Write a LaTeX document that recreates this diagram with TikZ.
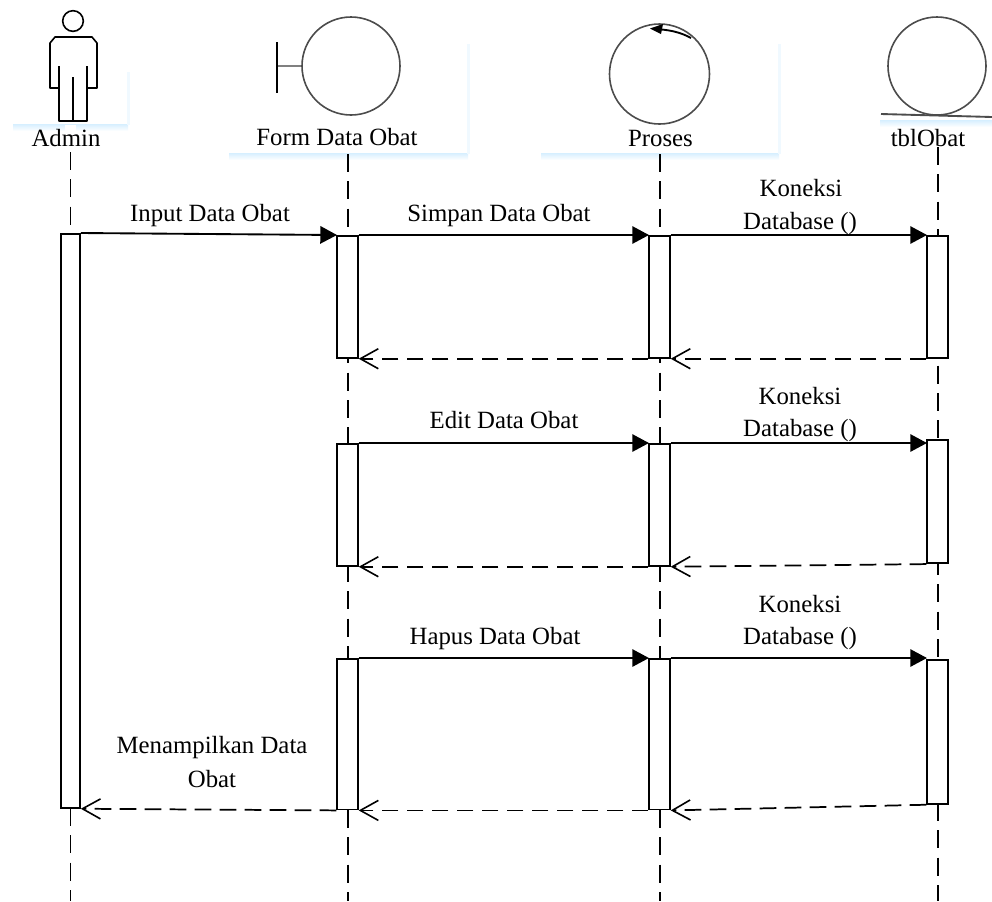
\documentclass[tikz,border=0pt]{standalone}
\usepackage{fontspec}
\setmainfont{Liberation Serif}
\usetikzlibrary{arrows.meta}
\tikzset{
  x=0.75pt,y=-0.75pt,
  lbl/.style={inner sep=0pt,font=\fontsize{18.6pt}{21pt}\selectfont,text=black},
  actbox/.style={draw=black,line width=1.3pt,fill=white,minimum width=15.5pt,inner sep=0pt,anchor=north},
  life/.style={draw=black,line width=1.3pt,dash pattern=on 13.5pt off 7pt},
  callarrow/.style={draw=black,line width=1.4pt,-{Triangle[length=12.5pt,width=13pt]},shorten >=-0.5pt},
  retarrow/.style={draw=black,line width=1.3pt,dash pattern=on 12.5pt off 6.25pt,-{Straight Barb[length=13.5pt,width=15pt,line width=1.2pt]}},
  fig/.style={draw=black,line width=1.2pt,line join=round},
  icon/.style={draw=black!70,line width=1.2pt},
  shadowfill/.style={top color=blue!40!cyan!16!white,bottom color=white,draw=none}
}
\newcommand{\panel}[4]{% x1 y1 x2 y2
  \shade[shadowfill] (#1-1,#4-1) rectangle (#3+1,#4+6);
  \fill[blue!40!cyan!6!white] (#3,#2+2) rectangle (#3+2.5,#4);
}
\begin{document}
\begin{tikzpicture}
\useasboundingbox (0,0) rectangle (992,901);
\fill[white] (0,0) rectangle (992,901);
% panels
\panel{14}{70}{127}{125}
\panel{230}{42}{467}{154}
\panel{542}{42}{778}{154}
\panel{881}{65}{992}{121}
\fill[white] (65,125) rectangle (76,151);
% lifeline ends
\coordinate (adminTop) at (70.5,152);
\coordinate (adminEnd) at (70.5,901);
\coordinate (formTop) at (348,154);
\coordinate (formEnd) at (348,901);
\coordinate (prosTop) at (660,154);
\coordinate (prosEnd) at (660,901);
\coordinate (tblTop) at (938,147);
\coordinate (tblEnd) at (938,901);
\draw[life] (adminTop) -- (adminEnd);
\draw[life] (formTop) -- (formEnd);
\draw[life] (prosTop) -- (prosEnd);
% activations
\node[actbox,minimum width=14.2pt,minimum height=430.5pt] (admin) at (70.5,233) {};
\node[actbox,minimum height=91.5pt] (f1) at (347.5,235) {};
\node[actbox,minimum height=91.5pt] (f2) at (347.5,443) {};
\node[actbox,minimum height=113pt] (f3) at (347.5,658) {};
\node[actbox,minimum height=91.5pt] (p1) at (659.5,235) {};
\node[actbox,minimum height=91.5pt] (p2) at (659.5,443) {};
\node[actbox,minimum height=113pt] (p3) at (659.5,658) {};
% labels
\node[lbl] (lAdmin) at (66,138) {Admin};
\node[lbl] (lForm) at (337,137) {Form Data Obat};
\node[lbl] (lPros) at (660.5,138) {Proses};
\node[lbl] (lTbl) at (928,138) {tblObat};
\node[lbl] (m1) at (210,216) {Input Data Obat};
\node[lbl] (m2) at (499,216) {Simpan Data Obat};
\node[lbl] (m3) at (801,188) {Koneksi};
\node[lbl] (m4) at (800,224) {Database ()};
\node[lbl] (m5) at (504,420) {Edit Data Obat};
\node[lbl] (m6) at (800,396) {Koneksi};
\node[lbl] (m7) at (800,431) {Database ()};
\node[lbl] (m8) at (495,639) {Hapus Data Obat};
\node[lbl] (m9) at (800,604) {Koneksi};
\node[lbl] (m10) at (800,639) {Database ()};
\node[lbl] (m11) at (212,748) {Menampilkan Data};
\node[lbl] (m12) at (212,779) {Obat};
% table lifeline runs over its label
\draw[life] (tblTop) -- (tblEnd);
\node[actbox,minimum height=91.5pt] (t1) at (937.5,235) {};
\node[actbox,minimum height=92.5pt] (t2) at (937.5,439) {};
\node[actbox,minimum height=108pt] (t3) at (937.5,659) {};
% calls
\draw[callarrow] (admin.north east) -- (f1.north west);
\draw[callarrow] (f1.north east) -- (p1.north west);
\draw[callarrow] (p1.north east) -- (p1.north east -| t1.west);
\draw[callarrow] (f2.north east) -- (p2.north west);
\draw[callarrow] (p2.north east) -- (p2.north east -| t2.west);
\draw[callarrow] (f3.north east) -- (p3.north west);
\draw[callarrow] (p3.north east) -- (p3.north east -| t3.west);
% returns
\draw[retarrow] (t1.south west) -- (p1.south east);
\draw[retarrow] (p1.south west) -- (f1.south east);
\draw[retarrow] (t2.south west) -- (p2.south east);
\draw[retarrow] (p2.south west) -- (f2.south east);
\draw[retarrow] (t3.south west) -- (p3.south east);
\draw[retarrow] (p3.south west) -- (f3.south east);
\draw[retarrow] (f3.south west) -- (admin.south east);
% actor
\node[fig,circle,minimum size=15.5pt,inner sep=0pt] (head) at (73,21) {};
\draw[fig] (59,66) -- (59,88) -- (50,88) -- (50,43) -- (55,37) -- (92,37) -- (97,43) -- (97,88) -- (87,88) -- (87,66);
\draw[fig] (59,88) -- (59,121) -- (87,121) -- (87,88);
\draw[fig] (73,77) -- (73,121);
% boundary
\node[icon,circle,minimum size=73.5pt,inner sep=0pt] (bcirc) at (351,66) {};
\coordinate (bbar) at (277,66);
\draw[icon,line width=1.8pt,draw=black!50] (bcirc.west) -- (bbar);
\draw[draw=black,line width=0.9pt] (277,42) -- (277,93);
% control
\node[icon,circle,minimum size=75pt,inner sep=0pt] (ccirc) at (659.5,74) {};
\draw[draw=black,line width=1.4pt] (691,38) .. controls (680,32) and (670,30) .. (656,29);
\fill[black] (650,28.5) -- (663,24) -- (661,34) -- cycle;
% entity
\node[icon,circle,minimum size=73.5pt,inner sep=0pt] (ecirc) at (937,66) {};
\coordinate (eL) at (881,114);
\coordinate (eR) at (992,117);
\draw[icon,line width=1.4pt] (eL) -- (eR);
\end{tikzpicture}
\end{document}
